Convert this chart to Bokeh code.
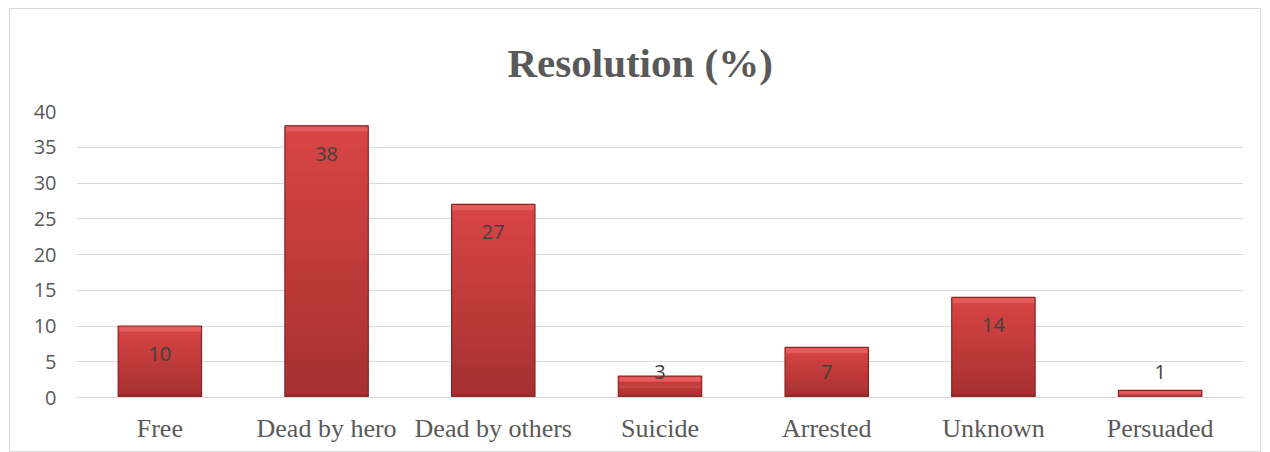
import numpy as np
from bokeh.plotting import figure
from bokeh.models import ColumnDataSource, SingleIntervalTicker, FactorRange
from bokeh.core.properties import value
from bokeh.embed import file_html
from bokeh.resources import INLINE

categories = ["Free", "Dead by hero", "Dead by others", "Suicide", "Arrested", "Unknown", "Persuaded"]
values = [10, 38, 27, 3, 7, 14, 1]
title_text = "Resolution (%)"

vals = np.array(values, dtype=float)

# gradient slices (light top -> dark bottom) for each bar
top_rgb = np.array([0xd9, 0x45, 0x45])
bot_rgb = np.array([0xa6, 0x30, 0x30])
N = 24
seg_cat, seg_bot, seg_top, seg_col = [], [], [], []
for c, v in zip(categories, vals):
    for i in range(N):
        b = v * i / N
        t = min(v, v * (i + 1.6) / N)
        f = (i + 0.5) / N
        rgb = bot_rgb + (top_rgb - bot_rgb) * f
        seg_cat.append(c)
        seg_bot.append(b)
        seg_top.append(t)
        seg_col.append("#%02x%02x%02x" % tuple(int(round(x)) for x in rgb))
seg_src = ColumnDataSource(dict(cat=seg_cat, bottom=seg_bot, top=seg_top, color=seg_col))

label_y = np.maximum(vals - 3.9, 3.6)
src = ColumnDataSource(dict(cat=categories, val=vals, lab=[str(v) for v in values],
                            ly=label_y, hl_bottom=np.maximum(vals - 0.8, 0),
                            sh_top=np.minimum(vals, 0.45)))

p = figure(x_range=FactorRange(*categories, range_padding=0), y_range=(0, 40),
           width=1252, height=444, output_backend="svg", toolbar_location=None,
           min_border_left=66, min_border_right=19, min_border_top=102, min_border_bottom=56)
p.styles = {"border": "1px solid #d9d9d9", "box-sizing": "border-box",
            "margin-left": "9px", "margin-top": "8px"}
p.outline_line_color = None
p.background_fill_color = "white"
p.border_fill_color = "white"

p.title.text = title_text
p.title.align = "left"
p.title.text_font = "Liberation Serif"
p.title.text_font_style = "bold"
p.title.text_font_size = "41px"
p.title.text_color = "#595959"
p.title.standoff = 51
p.title.offset = 431

# bars
p.vbar(x="cat", top="top", bottom="bottom", width=0.5, source=seg_src,
       fill_color="color", line_color=None)
p.vbar(x="cat", top="val", bottom="hl_bottom", width=0.5, source=src,
       fill_color="#e55a5a", line_color=None)
p.vbar(x="cat", top="sh_top", bottom=0, width=0.5, source=src,
       fill_color="#8f2626", fill_alpha=0.6, line_color=None)
p.vbar(x="cat", top="val", bottom=0, width=0.5, source=src,
       fill_color=None, line_color="#8a2222", line_width=1.2)

p.text(x="cat", y="ly", text="lab", source=src, text_align="center", text_baseline="middle",
       text_font=value("Open Sans"), text_font_size="20px", text_color="#404040")

p.yaxis.ticker = SingleIntervalTicker(interval=5)
p.yaxis.axis_line_color = None
p.yaxis.major_tick_line_color = None
p.yaxis.minor_tick_line_color = None
p.yaxis.major_label_text_font = "Open Sans"
p.yaxis.major_label_text_font_size = "20px"
p.yaxis.major_label_text_color = "#595959"
p.yaxis.major_label_standoff = 14

p.xaxis.axis_line_color = "#d9d9d9"
p.xaxis.major_tick_line_color = None
p.xaxis.major_label_text_font = "Liberation Serif"
p.xaxis.major_label_text_font_size = "26px"
p.xaxis.major_label_text_color = "#595959"
p.xaxis.major_label_standoff = 10

p.xgrid.grid_line_color = None
p.ygrid.grid_line_color = "#d9d9d9"
p.ygrid.grid_line_width = 1

open("out.html", "w").write(file_html(p, INLINE))
